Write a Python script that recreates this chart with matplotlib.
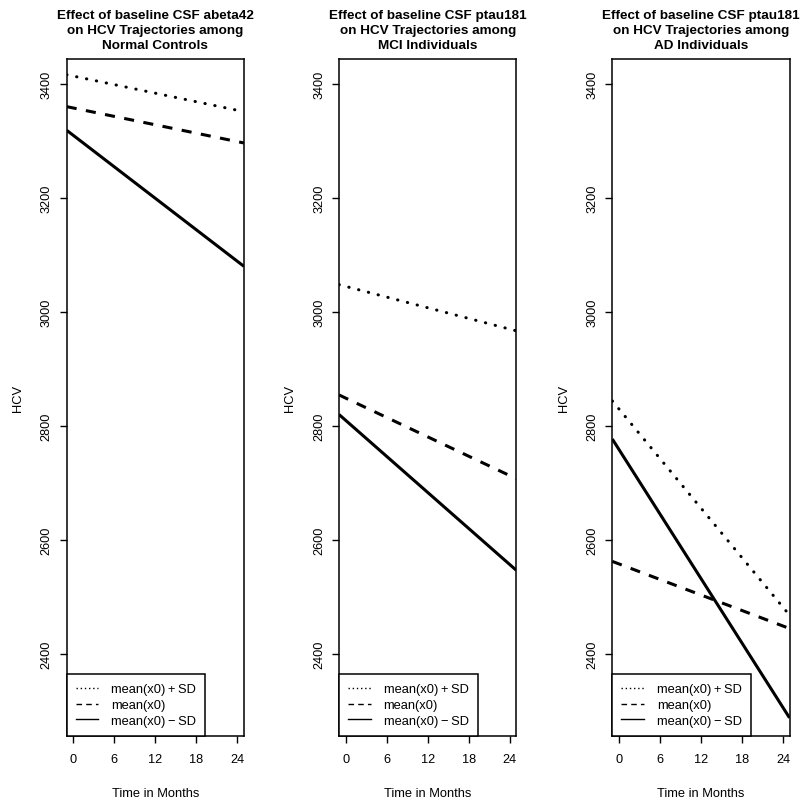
import numpy as np
import matplotlib
matplotlib.use("Agg")
import matplotlib.pyplot as plt
from matplotlib.lines import Line2D

plt.rcParams['font.family'] = ['Liberation Sans', 'DejaVu Sans']

# model predictions, at month 0 and month 24
months = [0, 24]
titles = [
    "Effect of baseline CSF abeta42\non HCV Trajectories among\nNormal Controls",
    "Effect of baseline CSF ptau181\non HCV Trajectories among\nMCI Individuals",
    "Effect of baseline CSF ptau181\non HCV Trajectories among\nAD Individuals",
]
plus_sd = [[3414, 3354], [3045, 2970], [2830, 2482]]
mean_x0 = [[3358, 3299], [2849, 2713], [2558, 2449]]
minus_sd = [[3310, 3089], [2810, 2557], [2759, 2306]]

legend_labels = ["mean(x0)\u2009+\u2009SD", "mean(x0)", "mean(x0)\u2009\u2212\u2009SD"]
x_ticks = [0, 6, 12, 18, 24]
y_ticks = [2400, 2600, 2800, 3000, 3200, 3400]

styles = [
    dict(linestyle=(0, (0.1, 3.2)), dash_capstyle='round'),
    dict(linestyle=(0, (3.3, 3.1)), dash_capstyle='butt'),
    dict(linestyle='-', solid_capstyle='butt'),
]

fig = plt.figure(figsize=(8, 8.03), dpi=100)
lefts = [0.0834, 0.4238, 0.7654]
bottom, height, width = 0.0822, 0.8431, 0.2215

xlim = (-0.96, 24.96)
ylim = (2256, 3444)

for i in range(3):
    ax = fig.add_axes([lefts[i], bottom, width, height])
    ax.set_xlim(xlim)
    ax.set_ylim(ylim)
    xs = np.array(xlim)
    for vals, st in zip([plus_sd[i], mean_x0[i], minus_sd[i]], styles):
        slope = (vals[1] - vals[0]) / (months[1] - months[0])
        ax.plot(xs, vals[0] + slope * (xs - months[0]), color='black', lw=2.2, **st)

    for s in ax.spines.values():
        s.set_linewidth(1.1)
    ax.set_xticks(x_ticks)
    ax.set_yticks(y_ticks)
    ax.set_yticklabels([str(v) for v in y_ticks], rotation=90, va='center')
    ax.tick_params(direction='out', length=5, width=1.0, labelsize=9.2, pad=7)
    ax.tick_params(axis='y', pad=5)
    ax.set_xlabel("Time in Months", fontsize=9.3, labelpad=16)
    ax.set_ylabel("HCV", fontsize=9.3, labelpad=12)
    ax.set_title(titles[i], fontsize=9.7, fontweight='bold', pad=8, linespacing=1.32)

    handles = [Line2D([], [], color='black', lw=1.0, linestyle=ls)
               for ls in [(0, (1, 2)), (0, (4, 3)), '-']]
    leg = ax.legend(handles, legend_labels, loc='lower left', fontsize=9.3,
                    frameon=True, fancybox=False, edgecolor='black', framealpha=1,
                    borderaxespad=0, handlelength=1.75, handletextpad=1.0,
                    labelspacing=0.3, borderpad=0.7)
    leg.get_frame().set_linewidth(1.1)

fig.savefig("out.png", dpi=100)
